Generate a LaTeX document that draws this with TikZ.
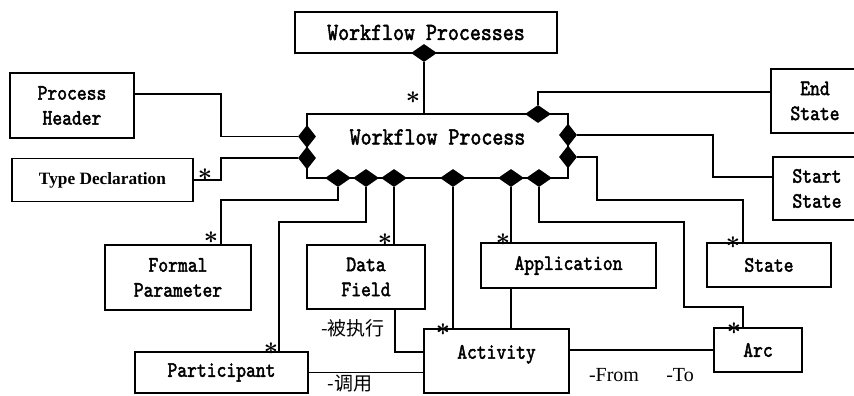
\documentclass[tikz,border=0pt]{standalone}
\usepackage{amsmath}
\usepackage{fontspec}
\usetikzlibrary{shapes.geometric}
\newfontfamily\umlfont[Extension=.otf, FakeStretch=0.85, FakeBold=2]{lmmono10-regular}
\newfontfamily\rolefont{Liberation Serif}
\newfontfamily\cjk{Noto Sans CJK SC}
\newcommand{\boxfont}{\umlfont\fontsize{22}{25}\selectfont}
\newcommand{\bigboxfont}{\umlfont\fontsize{24.6}{28}\selectfont}
\tikzstyle{classbox}=[draw, line width=1.6pt, rectangle, inner sep=0pt, align=center, font=\boxfont]
\tikzstyle{link}=[line width=1.6pt]
\tikzstyle{hcomp}=[diamond, fill=black, inner sep=0pt, minimum width=26pt, minimum height=18pt]
\tikzstyle{vcomp}=[diamond, fill=black, inner sep=0pt, minimum width=18pt, minimum height=23pt]
\tikzstyle{mult}=[inner sep=0pt, font=\fontsize{24}{24}\selectfont]
\tikzstyle{role}=[inner sep=0pt, font=\rolefont\fontsize{20}{22}\selectfont]
\tikzstyle{rolecjk}=[inner sep=0pt, font=\cjk\fontsize{19}{21}\selectfont]
% Syntax: \umlclass[extra options]{name}{x,y}{width}{height}{text}
\newcommand{\umlclass}[6][]{
	\node[classbox, minimum width=#4, minimum height=#5, #1] (#2) at (#3) {#6};
}
% Syntax: \manystar{name}{x,y}  (multiplicity mark)
\newcommand{\manystar}[2]{
	\node[mult] (#1) at (#2) {$\boldsymbol{\ast}$};
}
\begin{document}
\begin{tikzpicture}[x=1pt, y=-1pt]
	\useasboundingbox (0,0) rectangle (854,396);
	% classes
	\umlclass[font=\bigboxfont]{wps}{426,32.5}{262pt}{41pt}{Workflow Processes}
	\umlclass[font=\bigboxfont, text height=18pt, text depth=21pt]{wp}{437.5,146}{261pt}{64pt}{Workflow Process}
	\umlclass{phdr}{72,105.5}{124pt}{65pt}{Process\\Header}
	\umlclass[font=\rolefont\bfseries\fontsize{17.3}{20}\selectfont]{tdecl}{102.5,180}{181pt}{43pt}{Type Declaration}
	\umlclass{fparam}{178,277.5}{146pt}{65pt}{Formal\\Parameter}
	\umlclass{dfield}{366,277}{118pt}{64pt}{Data\\Field}
	\umlclass{partic}{221.5,372.5}{173pt}{41pt}{Participant}
	\umlclass[text height=16pt, text depth=20.6pt]{activ}{496.5,361}{145pt}{64pt}{Activity}
	\umlclass{appl}{568.5,265.5}{175pt}{45pt}{Application}
	\umlclass{state}{769,265}{124pt}{44pt}{State}
	\umlclass{arc}{758,350}{88pt}{44pt}{Arc}
	\umlclass{endst}{815,101}{88pt}{64pt}{End\\State}
	\umlclass{startst}{817,188.5}{88pt}{63pt}{Start\\State}
	% composition diamonds
	\node[hcomp] (dwps) at (424,53) {};
	\node[vcomp] (dph) at (307,136.5) {};
	\node[vcomp] (dtd) at (307,158) {};
	\node[hcomp] (dend) at (538,114) {};
	\node[vcomp] (dstart) at (568,135) {};
	\node[vcomp] (dstate) at (568,157) {};
	\foreach \nm/\xx in {dfp/338, dpa/366, ddf/394, dac/453, dap/511, darc/539}
		\node[hcomp] (\nm) at (\xx,178) {};
	% connectors
	\draw[link] (dwps.south) -- (dwps.south |- wp.north);
	\draw[link] (dph.west) -| (221,94) -- (phdr.east |- 0,94);
	\draw[link] (dtd.west) -| (221,180) -- (tdecl.east);
	\draw[link] (dend.north) |- (endst.west |- 0,92);
	\draw[link] (dstart.east) -| (713,177) -- (startst.west |- 0,177);
	\draw[link] (dstate.east) -| (597,200) -| (state.north -| 743,0);
	\draw[link] (dfp.south) -- (dfp.south |- 0,200) -| (fparam.north -| 221,0);
	\draw[link] (dpa.south) -- (dpa.south |- 0,222) -| (partic.north -| 279,0);
	\draw[link] (ddf.south) -- (ddf.south |- dfield.north);
	\draw[link] (dac.south) -- (dac.south |- activ.north);
	\draw[link] (dap.south) -- (dap.south |- appl.north);
	\draw[link] (darc.south) -- (darc.south |- 0,222) -| (684,307) -| (arc.north -| 743,0);
	\draw[link] (dfield.south -| 395,0) |- (activ.west |- 0,352);
	\draw[link] (partic.east) -- (partic.east -| activ.west);
	\draw[link] (arc.west -| activ.east) -- (arc.west);
	\draw[link] (dap.south |- appl.south) -- (dap.south |- activ.north);
	% multiplicities
	\manystar{mwp}{413,98}
	\manystar{mtd}{205,175}
	\manystar{mfp}{211,238}
	\manystar{mdf}{385,240}
	\manystar{mpa}{271,349}
	\manystar{mac}{443,330}
	\manystar{map}{503,240}
	\manystar{mst}{733,243}
	\manystar{marc}{734,329}
	% role names
	\node[rolecjk] (lexec) at (353,328) {-被执行};
	\node[rolecjk] (lcall) at (350,384) {-调用};
	\node[role] (lfrom) at (614,375) {-From};
	\node[role] (lto) at (680,375) {-To};
\end{tikzpicture}
\end{document}
